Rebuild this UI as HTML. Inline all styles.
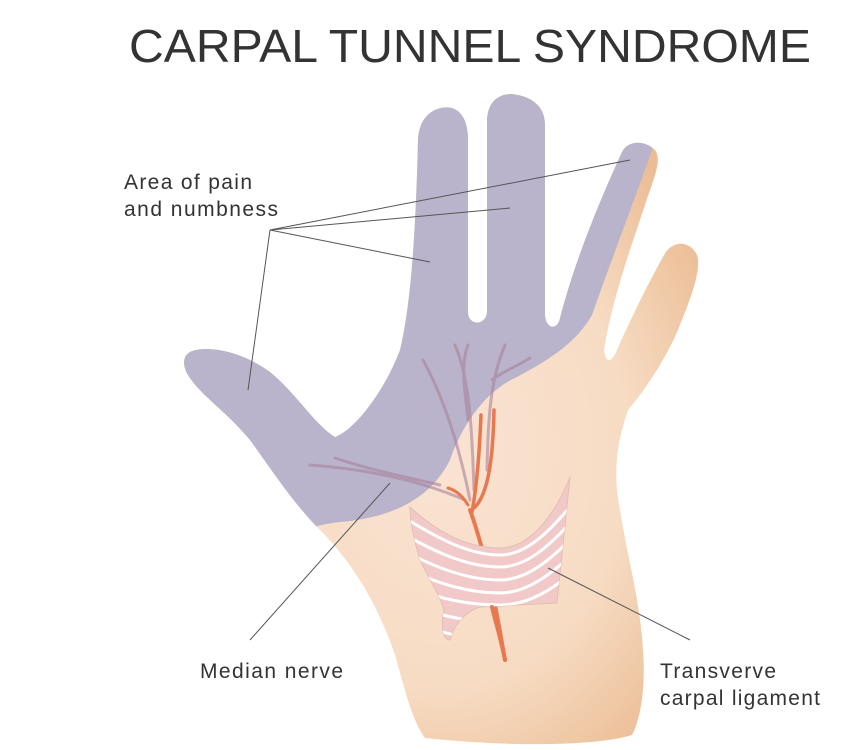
<!DOCTYPE html>
<html><head><style>html,body{margin:0;padding:0;background:#fff}svg{display:block}</style></head>
<body>
<svg width="858" height="750" viewBox="0 0 858 750" xmlns="http://www.w3.org/2000/svg">
<defs>
<radialGradient id="skin" cx="0.5" cy="0.55" r="0.6">
<stop offset="0" stop-color="#fae3d3"/><stop offset="0.6" stop-color="#f7dcc4"/><stop offset="1" stop-color="#ebbd94"/>
</radialGradient>
<clipPath id="hc"><path id="hand" d="M190,352 C205,345 240,350 270,372 C295,392 315,425 335,437 C355,430 385,390 400,350 C412,300 416,220 418,140 C419,112 440,105 452,108 C464,112 468,125 468,140 L468,312 C468,326 486,326 487,312 L487,120 C488,100 500,94 512,94 C530,96 545,105 545,125 L545,315 C546,330 558,330 560,318 C575,260 600,200 622,152 C628,140 645,140 655,150 C662,160 655,175 645,205 C630,250 612,300 604,350 C606,365 612,362 617,350 C630,320 650,280 664,255 C672,240 690,240 697,255 C702,270 690,300 678,330 C665,360 645,390 628,410 C618,440 612,470 620,510 C628,560 640,600 643,650 C646,690 640,720 632,735 C600,745 520,748 425,738 C412,720 405,690 395,655 C380,610 355,565 320,530 C295,505 275,475 250,440 C225,410 200,395 188,375 C182,365 183,356 190,352 Z"/></clipPath>
<clipPath id="lig"><path d="M410,507 C440,535 470,548 500,548 C530,548 555,515 570,477 L557,603 L480,607 C470,610 455,620 450,640 C444,640 440,630 444,610 C440,595 432,585 420,560 C414,540 410,520 410,507 Z"/></clipPath>
</defs>
<text x="470" y="62" font-family="Liberation Sans, sans-serif" font-size="46" fill="#333" text-anchor="middle" textLength="682" lengthAdjust="spacingAndGlyphs">CARPAL TUNNEL SYNDROME</text>
<use href="#hand" fill="url(#skin)"/>
<g clip-path="url(#hc)">
<path d="M150,300 L420,60 L660,60 L652,150 C640,185 615,250 592,315 C575,345 545,362 515,378 C485,392 462,425 450,460 C430,500 390,518 340,522 C320,524 300,530 280,540 L150,540 Z" fill="#b9b4cc"/>
<g fill="none" stroke="#a98299" stroke-width="3" stroke-linecap="round" opacity="0.6">
<path d="M470,500 C460,450 445,400 423,360"/>
<path d="M474,490 C472,430 470,380 455,345"/>
<path d="M468,420 C465,390 460,365 468,345"/>
<path d="M487,470 C488,420 490,380 505,345"/>
<path d="M492,380 C505,370 520,365 530,358"/>
<path d="M465,500 C430,485 380,470 310,465"/>
<path d="M440,485 C410,478 370,470 335,458"/>
</g>
<g fill="none" stroke="#e8784e" stroke-linecap="round">
<path d="M505,660 C498,620 488,560 470,510" stroke-width="4"/>
<path d="M472,512 C478,480 480,440 481,415" stroke-width="3.5"/>
<path d="M474,508 C488,495 493,460 494,410" stroke-width="3.5"/>
<path d="M468,505 C462,495 455,490 448,488" stroke-width="3"/>
</g>
</g>
<path d="M410,507 C440,535 470,548 500,548 C530,548 555,515 570,477 L557,603 L480,607 C470,610 455,620 450,640 C444,640 440,630 444,610 C440,595 432,585 420,560 C414,540 410,520 410,507 Z" fill="#f2c9c9" stroke="#e0c0b0" stroke-width="1"/>
<g fill="none" stroke="#fff" stroke-width="3" clip-path="url(#lig)">
<path d="M400,515 C440,540 470,555 500,555 C530,555 555,525 580,495"/>
<path d="M400,532 C440,555 470,567 500,567 C530,567 555,540 580,512"/>
<path d="M400,549 C440,570 470,580 500,580 C530,580 555,555 580,530"/>
<path d="M400,566 C440,585 470,593 500,593 C530,593 555,570 580,548"/>
<path d="M400,583 C440,600 470,605 500,605 C530,605 555,588 580,566"/>
<path d="M400,600 C430,612 450,618 470,620"/>
<path d="M400,617 C430,628 440,632 455,635"/>
</g>
<path d="M505,660 C500,635 495,620 492,607" fill="none" stroke="#e8784e" stroke-width="4" stroke-linecap="round"/>
<g stroke="#555" stroke-width="1" fill="none">
<path d="M270,230 L630,160 M270,230 L510,208 M270,230 L430,262 M270,230 L248,390"/>
<path d="M250,640 L390,483"/>
<path d="M690,640 L548,568"/>
</g>
<g font-family="Liberation Sans, sans-serif" font-size="21" fill="#333" lengthAdjust="spacingAndGlyphs">
<text x="124" y="189" textLength="128">Area of pain</text>
<text x="124" y="216" textLength="154">and numbness</text>
<text x="200" y="678" textLength="143">Median nerve</text>
<text x="660" y="678" textLength="116">Transverve</text>
<text x="660" y="705" textLength="160">carpal ligament</text>
</g>
</svg>
</body></html>
